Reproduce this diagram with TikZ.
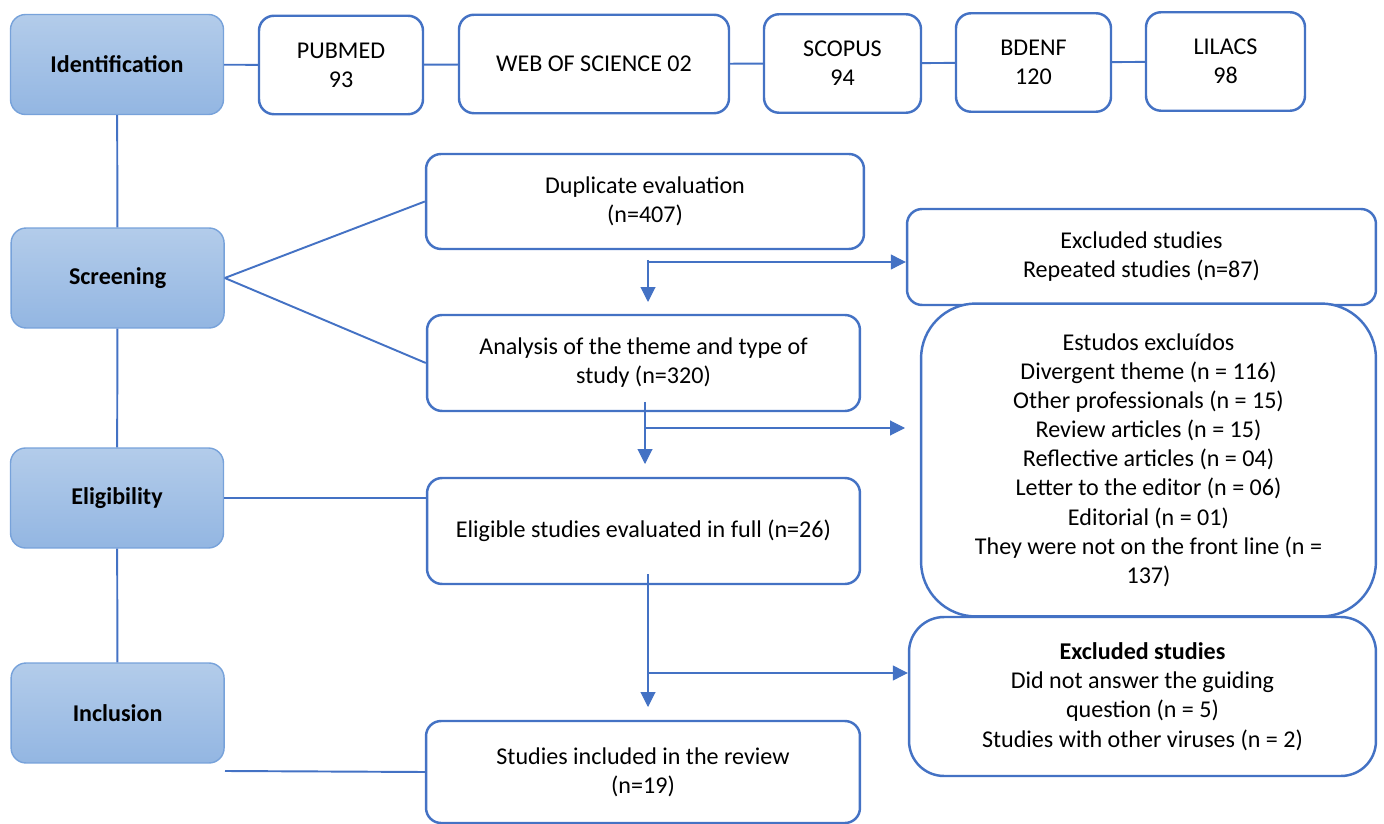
\documentclass[tikz,border=0pt]{standalone}
\usepackage{fontspec}
\setmainfont{Carlito}
\usepackage{xcolor}
\usetikzlibrary{arrows.meta}
\definecolor{flowblue}{HTML}{4472C4}
\definecolor{stagetop}{HTML}{B3CCEA}
\definecolor{stagebot}{HTML}{93B6E2}
\definecolor{stageedge}{HTML}{77A2DA}
\newcommand\boxfont{\fontsize{13.7}{16.6}\selectfont}
\tikzset{
  stage/.style={draw=stageedge, line width=0.8pt, rounded corners=0.3cm,
    top color=stagetop, bottom color=stagebot, font=\boxfont\bfseries,
    minimum width=4.26cm, minimum height=2cm},
  box/.style={draw=flowblue, line width=1.4pt, rounded corners=0.3cm,
    fill=white, align=center, inner sep=2pt},
  link/.style={draw=flowblue, line width=1.1pt},
  flow/.style={draw=flowblue, line width=0.6pt,
    -{Triangle[length=0.3cm, width=0.3cm]}}
}
\begin{document}
\begin{tikzpicture}[x=0.02cm, y=-0.02cm, font=\boxfont]
  \useasboundingbox (0,0) rectangle (1384,824);
  % Stages
  \foreach \n/\cx/\cy/\txt in {ident/117/64.5/Identification, screen/117.6/278/Screening,
      elig/117/498/Eligibility, incl/117.6/713/Inclusion} {
    \node[stage] (\n) at (\cx,\cy) {\txt};
  }
  \draw[link] (ident) -- (screen);
  \draw[link] (screen) -- (elig);
  \draw[link] (elig) -- (incl);
  % Databases
  \foreach \n/\cx/\cy/\w/\txt in {pubmed/341/65/164/{PUBMED\\93}, wos/594/64/270/{WEB OF SCIENCE 02},
      scopus/842.5/63.5/157/{SCOPUS\\94}, bdenf/1033.5/62.5/155/{BDENF\\120},
      lilacs/1225.5/61.5/159/{LILACS\\98}} {
    \node[box, minimum width=\w*0.02cm, minimum height=1.97cm] (\n) at (\cx,\cy) {\txt};
  }
  \draw[link] (ident) -- (pubmed);
  \draw[link] (pubmed) -- (wos);
  \draw[link] (wos) -- (scopus);
  \draw[link] (scopus) -- (bdenf);
  \draw[link] (bdenf) -- (lilacs);
  % Main flow
  \node[box, minimum width=8.76cm, minimum height=1.9cm] (dup) at (645,201.5) {Duplicate evaluation\\(n=407)};
  \node[box, minimum width=8.66cm, minimum height=1.92cm] (theme) at (643.5,363) {Analysis of the theme and type of\\study (n=320)};
  \node[box, minimum width=8.66cm, minimum height=2.12cm] (full) at (643.5,531) {Eligible studies evaluated in full (n=26)};
  \node[box, minimum width=8.68cm, minimum height=2.04cm] (final) at (643,772) {Studies included in the review\\(n=19)};
  % Exclusions
  \node[box, minimum width=9.38cm, minimum height=1.92cm] (rep) at (1141.5,257) {Excluded studies\\Repeated studies (n=87)};
  \node[box, rounded corners=1.1cm, minimum width=9.1cm, minimum height=6.26cm] (excl) at (1148.5,460)
    {Estudos excluídos\\Divergent theme (n = 116)\\Other professionals (n = 15)\\Review articles (n = 15)\\
     Reflective articles (n = 04)\\Letter to the editor (n = 06)\\Editorial (n = 01)\\
     They were not on the front line (n =\\137)};
  \node[box, rounded corners=0.7cm, minimum width=9.34cm, minimum height=3.18cm] (other) at (1142.5,696.5)
    {\textbf{Excluded studies}\\Did not answer the guiding\\question (n = 5)\\Studies with other viruses (n = 2)};
  % Stage links
  \draw[link] (screen.east) -- (dup.west);
  \draw[link] (screen.east) -- (theme.west);
  \draw[link] (elig.east) -- (elig.east -| full.west);
  \coordinate (inclend) at (225,771);
  \draw[link] (inclend) -- (final.west);
  % Arrows
  \coordinate (a1) at (648,260);  \coordinate (t1) at (648,302);  \coordinate (b1) at (648,262);
  \coordinate (a2) at (645,402);  \coordinate (t2) at (645,464);  \coordinate (b2) at (645,428);
  \coordinate (e2) at (905,428);
  \coordinate (a3) at (648,574);  \coordinate (t3) at (648,707);  \coordinate (b3) at (648,673);
  \draw[flow] (a1) -- (t1);
  \draw[flow] (b1) -- (b1 -| rep.west);
  \draw[flow] (a2) -- (t2);
  \draw[flow] (b2) -- (e2);
  \draw[flow] (a3) -- (t3);
  \draw[flow] (b3) -- (b3 -| other.west);
\end{tikzpicture}
\end{document}
